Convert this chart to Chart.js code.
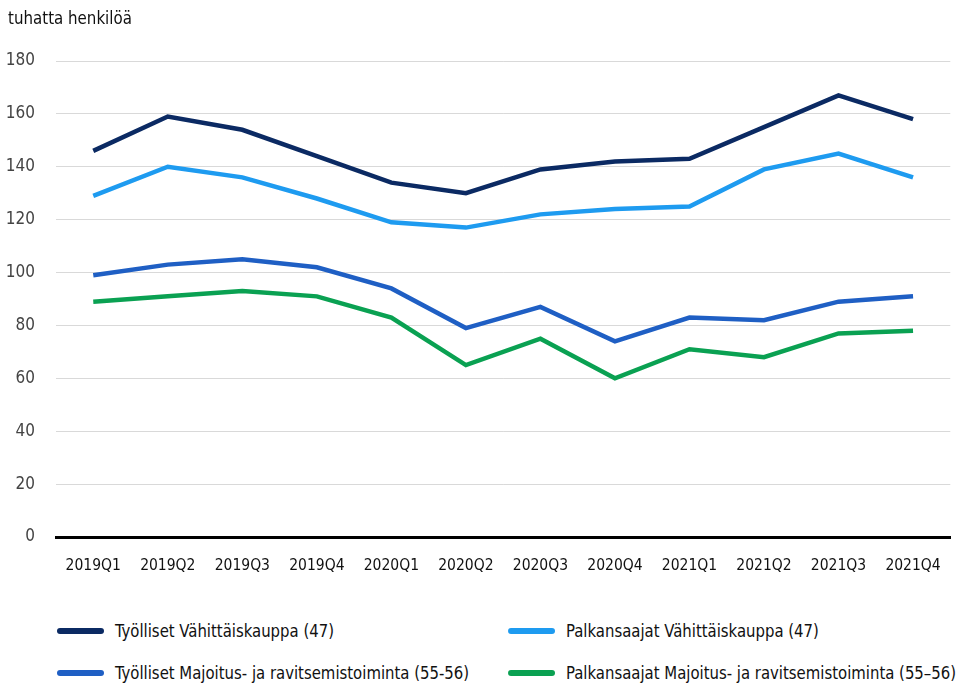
<!DOCTYPE html>
<html>
<head>
<meta charset="utf-8">
<script src="https://cdn.jsdelivr.net/npm/chart.js@4/dist/chart.umd.min.js"></script>
<style>
  html, body { margin: 0; padding: 0; background: #fff; }
  #wrap { position: relative; width: 961px; height: 688px; font-family: "Liberation Sans Narrow", "DejaVu Sans Condensed", sans-serif; }
  #title { position: absolute; left: 8px; top: 7px; font-size: 18px; color: #111; transform: scaleX(0.93); transform-origin: left center; }
  #chart-box { position: absolute; left: 0; top: 0; width: 961px; height: 600px; }
  .leg { position: absolute; display: flex; align-items: center; font-size: 18px; color: #111; white-space: nowrap; }
  .leg span.sw { display: inline-block; width: 47px; height: 6px; border-radius: 3px; margin-right: 11px; }
  .leg span.tx { display: inline-block; transform: scaleX(0.92); transform-origin: left center; }
</style>
</head>
<body>
<div id="wrap">
  <div id="chart-box"><canvas id="line-chart"></canvas></div>
  <div id="title">tuhatta henkilöä</div>
  <div id="legend"></div>
</div>
<script>
const quarters = ['2019Q1', '2019Q2', '2019Q3', '2019Q4', '2020Q1', '2020Q2', '2020Q3', '2020Q4', '2021Q1', '2021Q2', '2021Q3', '2021Q4'];
const tyollisetKauppa = [146, 159, 154, 144, 134, 130, 139, 142, 143, 155, 167, 158];
const palkansaajatKauppa = [129, 140, 136, 128, 119, 117, 122, 124, 125, 139, 145, 136];
const tyollisetMajoitus = [99, 103, 105, 102, 94, 79, 87, 74, 83, 82, 89, 91];
const palkansaajatMajoitus = [89, 91, 93, 91, 83, 65, 75, 60, 71, 68, 77, 78];
const seriesLabels = [
    'Työlliset Vähittäiskauppa (47)',
    'Palkansaajat Vähittäiskauppa (47)',
    'Työlliset Majoitus- ja ravitsemistoiminta (55-56)',
    'Palkansaajat Majoitus- ja ravitsemistoiminta (55–56)'
];
const seriesColors = ['#0b2a63', '#1e9bf0', '#1f5fc4', '#0aa152'];

const FONT = '"Liberation Sans Narrow", "DejaVu Sans Condensed", sans-serif';

const mkSet = (i, data) => ({
    label: seriesLabels[i],
    data: data,
    borderColor: seriesColors[i],
    backgroundColor: seriesColors[i],
    borderWidth: 4.5,
    pointRadius: 0,
    tension: 0,
    fill: false
});

const ctx = document.getElementById('line-chart').getContext('2d');
new Chart(ctx, {
    type: 'line',
    data: {
        labels: quarters,
        datasets: [
            mkSet(0, tyollisetKauppa),
            mkSet(1, palkansaajatKauppa),
            mkSet(2, tyollisetMajoitus),
            mkSet(3, palkansaajatMajoitus)
        ]
    },
    options: {
        responsive: true,
        maintainAspectRatio: false,
        animation: false,
        layout: { padding: { top: 61, right: 7, left: 0, bottom: 0 } },
        plugins: { legend: { display: false }, tooltip: { enabled: false } },
        scales: {
            x: {
                offset: true,
                grid: { display: false, drawTicks: false },
                border: { display: true, color: '#000', width: 3 },
                ticks: { color: '#111', font: { family: FONT, size: 15.5 }, padding: 20, maxRotation: 0, autoSkip: false },
                afterFit: (axis) => { axis.height = 63; }
            },
            y: {
                min: 0,
                max: 180,
                ticks: { stepSize: 20, color: '#444', font: { family: FONT, size: 17 }, padding: 21, },
                grid: { color: '#d9d9d9', lineWidth: 1, drawTicks: false },
                border: { display: false },
                afterFit: (axis) => { axis.width = 56; }
            }
        }
    }
});

// legenda kahteen sarakkeeseen
const legPos = [[57, 631], [508, 631], [57, 673], [508, 673]];
const legendEl = document.getElementById('legend');
seriesLabels.forEach((lbl, i) => {
    const d = document.createElement('div');
    d.className = 'leg';
    d.style.left = legPos[i][0] + 'px';
    d.style.top = (legPos[i][1] - 11) + 'px';
    d.innerHTML = '<span class="sw" style="background:' + seriesColors[i] + '"></span><span class="tx">' + lbl + '</span>';
    legendEl.appendChild(d);
});
</script>
</body>
</html>
